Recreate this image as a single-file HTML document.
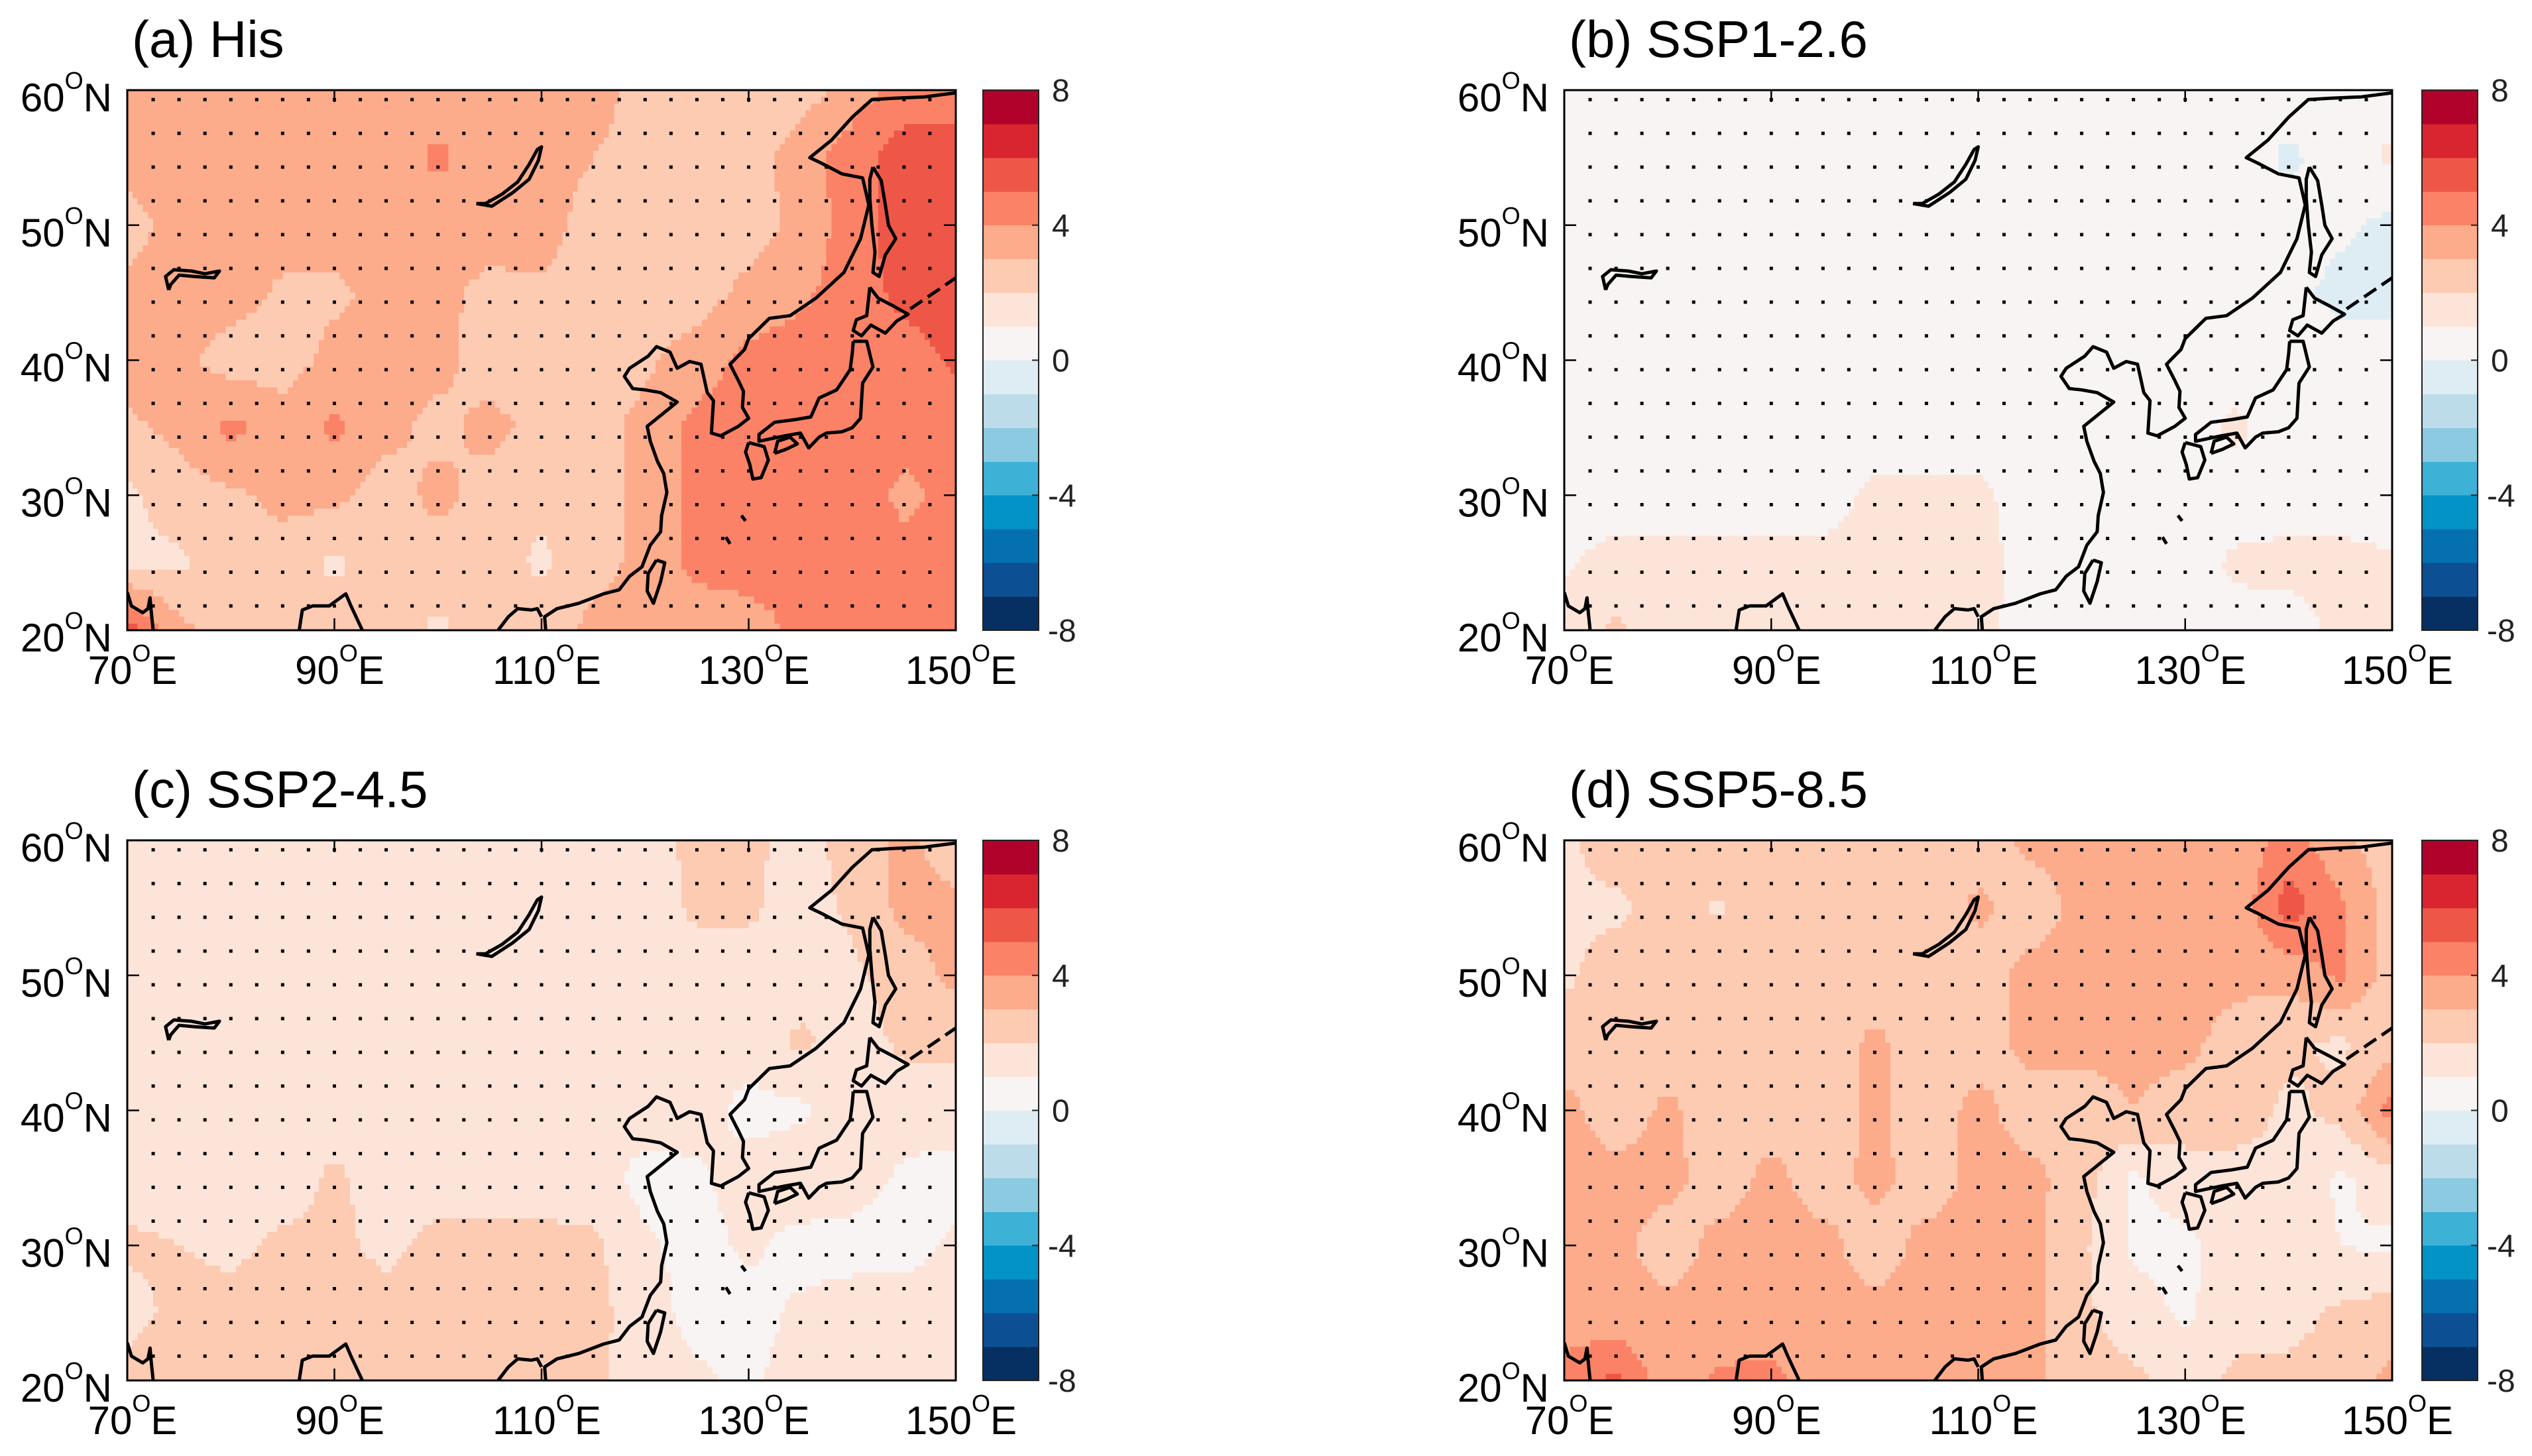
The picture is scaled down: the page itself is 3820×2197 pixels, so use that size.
<!DOCTYPE html>
<html><head><meta charset="utf-8"><style>
html,body{margin:0;padding:0;background:#fff;}
svg{display:block;font-family:"Liberation Sans",Arial,sans-serif;}
</style></head><body>
<svg id="fig" xmlns="http://www.w3.org/2000/svg" width="3820" height="2197" viewBox="0 0 3820 2197"></svg>
<script>
// ---------- data ----------
const gridLons=[70,75,80,85,90,95,100,105,110,115,120,125,130,135,140,145,150];
const gridLats=[60,55,50,45,40,35,30,25,20];
const levelBounds=[-8,-7,-6,-5,-4,-3,-2,-1,0,1,2,3,4,5,6,7,8];
const colorbarTicks=[8,4,0,-4,-8];
const latTicks=[20,30,40,50,60];
const lonTicks=[70,90,110,130,150];
const panelTitles=["(a) His","(b) SSP1-2.6","(c) SSP2-4.5","(d) SSP5-8.5"];
const hisValues=[
[3.5,3.5,3.5,3.5,3.5,3.5,3.5,3.5,3.5,3.5,2.5,2.5,2.5,2.5,3.5,4.5,4.5],
[3.5,3.5,3.5,3.5,3.5,3.5,4.2,3.5,3.5,3.0,2.5,2.5,2.5,3.5,4.5,5.5,5.5],
[2.5,3.5,3.5,3.5,3.5,3.5,3.5,3.5,3.5,2.5,2.5,2.5,2.5,3.3,4.5,5.5,5.5],
[3.3,3.5,3.5,2.8,2.8,3.3,3.3,2.7,2.8,2.5,2.5,2.5,3.3,3.8,4.5,5.3,5.5],
[3.5,3.3,2.5,2.5,3.3,3.4,3.3,2.5,2.5,2.5,2.8,3.5,4.3,4.5,4.5,4.5,5.2],
[2.8,3.3,4.3,3.5,4.2,3.3,2.7,3.3,2.7,2.6,3.3,4.3,4.5,4.5,4.5,4.3,4.3],
[1.8,2.5,2.8,3.3,3.3,2.5,3.3,2.6,2.2,2.6,3.3,4.3,4.5,4.5,4.5,3.8,4.3],
[1.8,1.8,2.5,2.5,1.8,2.5,2.5,2.5,1.8,2.6,3.3,4.3,4.5,4.3,4.3,4.3,4.5],
[5.5,3.3,2.5,2.5,2.5,2.5,1.8,2.5,2.5,3.3,3.3,3.3,3.5,4.3,4.3,4.5,4.8]];
const ssp126Values=[
[0.5,0.5,0.5,0.5,0.5,0.5,0.5,0.5,0.5,0.5,0.5,0.5,0.5,0.5,0.5,0.5,0.5],
[0.5,0.5,0.5,0.5,0.5,0.5,0.5,0.5,0.5,0.5,0.5,0.5,0.5,0.5,-0.2,0.5,1.2],
[0.5,0.5,0.5,0.5,0.5,0.5,0.5,0.5,0.5,0.5,0.5,0.5,0.5,0.5,0.5,0.2,-0.3],
[0.5,0.5,0.5,0.5,0.5,0.5,0.5,0.5,0.5,0.5,0.5,0.5,0.5,0.5,0.3,-0.3,-0.3],
[0.5,0.5,0.5,0.5,0.5,0.5,0.5,0.5,0.5,0.5,0.5,0.5,0.5,0.5,0.5,0.5,0.5],
[0.5,0.5,0.5,0.5,0.5,0.5,0.5,0.5,0.5,0.5,0.5,0.5,0.6,1.2,0.5,0.5,0.5],
[0.6,0.6,0.6,0.6,0.6,0.6,1.2,1.2,1.2,0.6,0.5,0.5,0.5,0.5,0.5,0.5,0.5],
[0.9,1.3,1.3,1.3,1.3,1.3,1.3,1.3,1.3,0.7,0.5,0.5,0.5,1.2,1.3,1.3,1.1],
[1.3,2.2,1.3,1.3,1.3,1.3,1.3,1.3,1.3,0.6,0.6,0.6,0.6,0.6,0.6,1.2,1.2]];
const ssp245Values=[
[1.5,1.5,1.5,1.5,1.5,1.5,1.5,1.5,1.5,1.5,1.5,2.3,2.3,1.5,2.5,3.2,2.5],
[1.5,1.5,1.5,1.5,1.5,1.5,1.5,1.5,1.5,1.5,1.5,2.2,2.2,1.5,2.2,3.3,3.2],
[1.5,1.5,1.5,1.5,1.5,1.5,1.5,1.5,1.5,1.5,1.5,1.5,1.5,1.5,1.8,2.5,3.3],
[1.5,1.5,1.5,1.5,1.5,1.5,1.5,1.5,1.5,1.5,1.5,1.5,1.5,2.2,1.5,2.2,2.2],
[1.5,1.5,1.5,1.5,1.5,1.5,1.5,1.5,1.5,1.5,1.5,1.5,0.6,0.8,1.5,1.5,1.5],
[1.5,1.5,1.6,1.5,2.2,1.5,1.5,1.5,1.5,1.5,0.6,0.8,1.5,1.8,1.5,0.8,0.6],
[2.2,2.0,1.8,2.2,2.2,1.8,2.3,2.3,2.3,2.2,1.2,0.6,1.2,0.6,0.6,0.6,1.2],
[1.6,2.3,2.3,2.3,2.3,2.3,2.3,2.3,2.3,2.3,1.5,0.6,0.6,1.2,1.5,1.5,1.5],
[2.3,2.8,2.2,2.2,2.2,2.2,2.2,2.2,2.2,2.2,1.5,1.2,0.8,1.5,1.5,1.5,1.5]];
const ssp585Values=[
[1.8,2.5,2.5,2.5,2.5,2.5,2.5,2.5,2.5,3.2,3.3,3.3,3.3,3.2,4.5,3.2,2.5],
[1.8,1.8,2.3,1.9,2.5,2.5,2.5,2.5,3.2,2.5,3.3,3.3,3.3,3.3,5.5,4.2,2.5],
[1.8,2.5,2.5,2.5,2.5,2.5,2.5,2.5,2.5,3.3,3.3,3.5,3.4,3.3,3.3,4.2,2.5],
[2.5,2.5,2.5,2.5,2.5,2.5,3.2,2.5,2.5,3.3,3.3,3.3,3.3,2.5,2.2,1.8,2.5],
[3.3,2.5,3.2,2.5,2.5,2.5,3.2,2.5,3.3,2.5,2.5,3.0,2.5,2.5,1.8,2.3,4.5],
[3.3,3.3,3.3,2.5,3.3,2.5,3.3,2.5,3.3,3.3,2.5,0.8,1.6,1.6,1.8,0.8,1.6],
[3.3,3.3,2.5,3.3,3.3,3.3,2.5,3.3,3.3,3.3,2.2,0.8,0.7,1.6,1.7,1.0,0.8],
[3.3,3.3,3.3,3.3,3.3,3.3,3.3,3.3,3.3,3.3,2.2,1.5,0.8,1.7,1.6,2.2,2.5],
[4.5,5.2,3.3,4.2,4.3,3.5,3.3,3.3,3.3,3.3,2.3,2.2,1.6,2.2,2.3,2.5,3.3]];
const levelColors=["#053061","#0d4f93","#0570b0","#0393c7","#3eb1d6","#8ccae1","#bcdcea","#deedf3",
"#f7f4f3","#fde4d9","#fdcab2","#fcab8b","#fb8266","#ee5747","#d9252f","#b0022a"];
// coastlines (lon,lat)
const coastMain=[[150,59.8],[147,59.5],[144,59.4],[141.9,59.3],[140,58],[138,56.3],[135.9,55],[137,54.6],[139,53.8],[141,53.5],[141.6,51.5],[140.8,49],[139.2,46.5],[136.5,44.6],[134,43.3],[132,43.1],[130,41.6],[129.6,40.8],[128.2,39.7],[129,38.5],[129.5,37.7],[129.4,36.5],[130,35.7],[129,35.1],[127.3,34.4],[126.4,34.6],[126.6,37],[126,37.6],[125.4,39.7],[124.3,39.9],[123.1,39.4],[122.4,40.6],[121.1,41],[120.3,40.3],[118.5,39.4],[118,38.8],[118.8,37.9],[120,37.8],[121.5,37.6],[123.1,36.9],[120.2,35.1],[120.5,34],[121.2,32.5],[121.8,31.6],[122.1,30.2],[121.6,28.5],[121.5,27.3],[120.5,26.3],[119.7,24.7],[118.5,24],[117.5,23],[116,22.7],[113.6,22],[111.5,21.6],[110.3,21],[110.4,20]];
const coastTonkin=[[105.8,20],[106.8,21],[107.7,21.6],[109,21.5],[109.6,21.6],[110,21]];
const coastBengal=[[86.6,20],[86.9,21.5],[87.9,21.8],[89.5,21.8],[91.1,22.7],[91.6,21.8],[92.7,20]];
const coastIndia=[[70,22.8],[70.4,21.8],[71.5,21.3],[72,21.6],[72.2,22.4],[72.3,21.5],[72.5,20]];
const sakhalin=[[142,54.3],[142.8,53.3],[143.2,51.5],[143.5,50],[144.2,49],[143.2,47.8],[142.6,46.2],[142,46.5],[142.2,48],[141.9,50],[141.7,52],[141.7,53.4],[142,54.3]];
const hokkaido=[[141.7,45.4],[142.5,44.6],[144,44],[145.4,43.4],[144.3,42.9],[143.2,42],[141.8,42.6],[140.9,41.8],[140.1,42.2],[140.4,43],[141.4,43.3],[141.7,45.4]];
const honshu=[[140.1,41.4],[141.4,41.4],[142,39.5],[141,38.3],[140.9,37],[140.8,35.7],[140,35],[139,34.7],[137.5,34.6],[136.8,34.3],[135.8,33.5],[135,34.6],[133.5,34.4],[131,34],[131,34.5],[132.5,35.4],[134.5,35.6],[136,35.8],[136.8,37.2],[138.5,37.8],[139.8,39.3],[140,40.5],[140.1,41.4]];
const kyushu=[[130,33.9],[131.5,33.6],[131.9,32.6],[131.2,31.3],[130.4,31.2],[130.1,32.3],[129.7,33.2],[130,33.9]];
const shikoku=[[132.5,33.1],[133.6,33.4],[134.7,33.8],[134,34.3],[132.8,34],[132.5,33.1]];
const taiwan=[[121.1,25.2],[121.9,25],[121.5,23.6],[120.8,22],[120.2,22.9],[120.3,24.2],[121.1,25.2]];
const balkhash=[[74,45.2],[73.7,46.2],[74.5,46.7],[76.2,46.6],[77.5,46.4],[78.9,46.6],[78.4,46.1],[76.5,46.2],[75,46.3],[74.2,45.6],[74,45.2]];
const baikal=[[103.7,51.6],[104.6,51.6],[106.2,52.3],[107.7,53.2],[108.8,54.5],[109.6,55.6],[110,55.8],[109.7,54.8],[108.8,53.4],[107.2,52.4],[105.2,51.4],[103.7,51.6]];
const ryukyu=[[[127.8,26.9],[128.2,26.4]],[[129.3,28.5],[129.7,28.1]]];
const kurils=[[145.6,43.8],[150,46.1]];

// ---------- layout ----------
const panels=[
 {x0:192,x1:1442,y0:136,y1:951,cb:1483,grid:hisValues,key:"his"},
 {x0:2360,x1:3609,y0:136,y1:951,cb:3654,grid:ssp126Values,key:"ssp126"},
 {x0:192,x1:1442,y0:1268,y1:2083,cb:1483,grid:ssp245Values,key:"ssp245"},
 {x0:2360,x1:3609,y0:1268,y1:2083,cb:3654,grid:ssp585Values,key:"ssp585"}];
const NS="http://www.w3.org/2000/svg";
const svg=document.getElementById('fig');
function mk(tag,attrs,parent){const e=document.createElementNS(NS,tag);for(const k in attrs)e.setAttribute(k,attrs[k]);(parent||svg).appendChild(e);return e;}
function interp(g,lon,lat){
 let fx=(lon-gridLons[0])/5, fy=(gridLats[0]-lat)/5;
 let i=Math.min(Math.max(Math.floor(fx),0),gridLons.length-2), j=Math.min(Math.max(Math.floor(fy),0),gridLats.length-2);
 let tx=fx-i, ty=fy-j;
 return g[j][i]*(1-tx)*(1-ty)+g[j][i+1]*tx*(1-ty)+g[j+1][i]*(1-tx)*ty+g[j+1][i+1]*tx*ty;}
function levelIndex(v){let k=0;for(let b=0;b<levelBounds.length-1;b++){if(v>=levelBounds[b])k=b;}return k;}

panels.forEach((p,pi)=>{
 const W=p.x1-p.x0,H=p.y1-p.y0;
 const X=lon=>p.x0+(lon-70)/80*W, Y=lat=>p.y1-(lat-20)/40*H;
 const g=mk('g',{},svg);
 
 
 const cid='clip'+pi;
 const cp=mk('clipPath',{id:cid},g);mk('rect',{x:p.x0,y:p.y0,width:W,height:H},cp);
 const field=mk('g',{'clip-path':'url(#'+cid+')','shape-rendering':'crispEdges'},g);
 
 
 const step=0.5;
 for(let lat=60;lat>20;lat-=step){
  let runStart=70,runIdx=null;
  for(let lon=70;lon<=150;lon+=step){
   let idx= lon<150 ? levelIndex(interp(p.grid,lon+step/2,lat-step/2)) : -1;
   if(runIdx===null){runIdx=idx;runStart=lon;}
   else if(idx!==runIdx){
    const r=mk('rect',{x:X(runStart).toFixed(1),y:Y(lat).toFixed(1),width:(X(lon)-X(runStart)+0.6).toFixed(1),height:(Y(lat-step)-Y(lat)+0.6).toFixed(1),fill:levelColors[runIdx]},field);
    
    
    runIdx=idx;runStart=lon;}
  }
 }
 const dots=mk('g',{fill:'#000'},g);
 
 
 for(let la=59.3;la>21;la-=2.5){for(let lo=72.5;lo<149;lo+=2.5){
  mk('rect',{x:(X(lo)-2.5).toFixed(1),y:(Y(la)-2.5).toFixed(1),width:5,height:5},dots);}}
 const cg=mk('g',{'clip-path':'url(#'+cid+')',fill:'none',stroke:'#000','stroke-width':5,'stroke-linejoin':'round'},g);
 
 
 const lines=[coastMain,coastTonkin,coastBengal,coastIndia,sakhalin,hokkaido,honshu,kyushu,shikoku,taiwan,balkhash,baikal].concat(ryukyu);
 lines.forEach(l=>{mk('polyline',{points:l.map(q=>X(q[0]).toFixed(1)+','+Y(q[1]).toFixed(1)).join(' ')},cg);});
 mk('polyline',{points:kurils.map(q=>X(q[0]).toFixed(1)+','+Y(q[1]).toFixed(1)).join(' '),'stroke-dasharray':'22,10'},cg);
 const fr=mk('rect',{x:p.x0,y:p.y0,width:W,height:H,fill:'none',stroke:'#000','stroke-width':3},g);
 
 
 latTicks.forEach(t=>{const y=Y(t);
  mk('line',{x1:p.x0,y1:y,x2:p.x0+18,y2:y,stroke:'#000','stroke-width':2.5},g);
  mk('line',{x1:p.x1,y1:y,x2:p.x1-18,y2:y,stroke:'#000','stroke-width':2.5},g);
  const t1=mk('text',{x:p.x0-23,y:y+32,'text-anchor':'end','font-size':60,fill:'#000'},g);
  
  
  t1.innerHTML=t+'<tspan font-size="36" dy="-34">O</tspan><tspan dy="34">N</tspan>';});
 lonTicks.forEach(t=>{const x=X(t);
  mk('line',{x1:x,y1:p.y1,x2:x,y2:p.y1-18,stroke:'#000','stroke-width':2.5},g);
  mk('line',{x1:x,y1:p.y0,x2:x,y2:p.y0+18,stroke:'#000','stroke-width':2.5},g);
  const t1=mk('text',{x:x+8,y:p.y1+81,'text-anchor':'middle','font-size':60,fill:'#000'},g);
  
  
  t1.innerHTML=t+'<tspan font-size="36" dy="-34">O</tspan><tspan dy="34">E</tspan>';});
 const tt=mk('text',{x:p.x0+7,y:p.y0-50,'font-size':78,fill:'#000'},g);
 
 
 tt.textContent=panelTitles[pi];
 const cb=mk('g',{},g);
 
 
 const cbW=84, n=levelColors.length, CY=v=>p.y1-(v-levelBounds[0])/(levelBounds[n]-levelBounds[0])*H;
 levelColors.forEach((c,k)=>{const r=mk('rect',{x:p.cb,y:CY(levelBounds[k+1]).toFixed(1),width:cbW,height:(CY(levelBounds[k])-CY(levelBounds[k+1])+0.5).toFixed(1),fill:c,'shape-rendering':'crispEdges'},cb);
  
  });
 mk('rect',{x:p.cb,y:p.y0,width:cbW,height:H,fill:'none',stroke:'#222','stroke-width':2},cb);
 colorbarTicks.forEach(v=>{const y=CY(v);
  mk('line',{x1:p.cb+cbW,y1:y,x2:p.cb+cbW-10,y2:y,stroke:'#222','stroke-width':2},cb);
  const t1=mk('text',{x:p.cb+cbW+(v<0?14:20),y:y+17,'font-size':48,fill:'#222'},cb);
  
  
  t1.textContent=v;});
});
</script>
</body></html>
